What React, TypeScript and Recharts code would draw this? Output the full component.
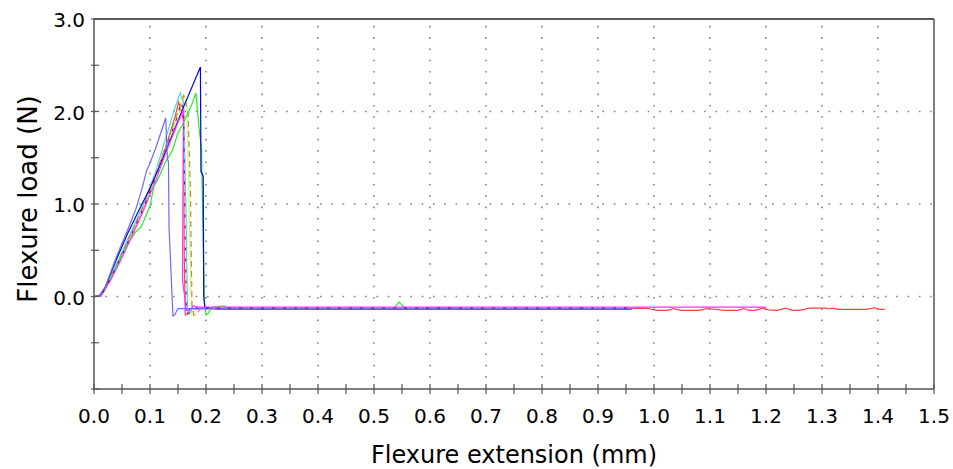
import React from 'react';
import { LineChart, Line, XAxis, YAxis, ReferenceLine, Label } from 'recharts';

// Flexure test curves: [extension (mm), load (N)]
const blueRun: [number, number][] = [
  [0, 0], [0.01, 0.01], [0.02, 0.1], [0.04, 0.4], [0.06, 0.68], [0.08, 0.93], [0.1, 1.17],
  [0.12, 1.45], [0.14, 1.75], [0.16, 2.05], [0.19, 2.48], [0.191, 1.35], [0.195, 1.3],
  [0.196, 0.0], [0.198, -0.12], [0.22, -0.135], [0.96, -0.135],
];
const violetRun: [number, number][] = [
  [0, 0], [0.01, 0.01], [0.02, 0.1], [0.04, 0.43], [0.06, 0.72], [0.075, 0.95], [0.085, 1.15],
  [0.094, 1.36], [0.1, 1.44], [0.11, 1.6], [0.128, 1.93], [0.131, 1.5], [0.133, 1.45],
  [0.134, 0.75], [0.138, 0.2], [0.141, -0.21], [0.144, -0.2], [0.15, -0.13], [0.96, -0.13],
];
const greenRun: [number, number][] = [
  [0, 0], [0.01, 0.01], [0.02, 0.08], [0.04, 0.33], [0.06, 0.57], [0.075, 0.7], [0.085, 0.76],
  [0.1, 0.98], [0.107, 1.19], [0.115, 1.28], [0.13, 1.48], [0.14, 1.58], [0.15, 1.77],
  [0.158, 1.86], [0.166, 1.96], [0.175, 2.08], [0.182, 2.2], [0.188, 1.8], [0.192, 1.6],
  [0.194, 0.9], [0.197, -0.05], [0.2, -0.2], [0.204, -0.18], [0.21, -0.12], [0.22, -0.11],
  [0.232, -0.1], [0.24, -0.12], [0.3, -0.13], [0.535, -0.13], [0.545, -0.06], [0.556, -0.13],
  [0.645, -0.12], [0.66, -0.13], [0.86, -0.13], [0.87, -0.12], [0.88, -0.13], [0.96, -0.13],
];
const redRun: [number, number][] = [
  [0, 0], [0.012, 0.0], [0.03, 0.2], [0.05, 0.45], [0.07, 0.72], [0.09, 0.98], [0.11, 1.3],
  [0.13, 1.65], [0.145, 1.95], [0.151, 2.1], [0.156, 2.0], [0.16, 1.9], [0.161, 0.5],
  [0.163, -0.2], [0.166, -0.2], [0.172, -0.13], [0.96, -0.13], [0.975, -0.125],
  [0.99, -0.13], [1.005, -0.15], [1.023, -0.15], [1.035, -0.13], [1.047, -0.15],
  [1.08, -0.15], [1.095, -0.13], [1.127, -0.15], [1.15, -0.15], [1.16, -0.13],
  [1.17, -0.15], [1.18, -0.15], [1.195, -0.125], [1.204, -0.145], [1.22, -0.15],
  [1.235, -0.125], [1.247, -0.15], [1.26, -0.15], [1.278, -0.125], [1.307, -0.125],
  [1.313, -0.135], [1.318, -0.125], [1.33, -0.14], [1.38, -0.14], [1.394, -0.12],
  [1.404, -0.14], [1.412, -0.14],
];
const magentaRun: [number, number][] = [
  [0, 0], [0.012, 0.0], [0.03, 0.18], [0.05, 0.42], [0.07, 0.68], [0.09, 0.95], [0.11, 1.25],
  [0.13, 1.58], [0.15, 1.88], [0.16, 2.02], [0.159, 1.4], [0.158, 0.18], [0.165, -0.15],
  [0.171, -0.15], [0.178, -0.1], [0.185, -0.115], [0.96, -0.115], [1.2, -0.115],
];
const cyanRun: [number, number][] = [
  [0, 0], [0.012, 0.0], [0.03, 0.22], [0.05, 0.48], [0.07, 0.75], [0.09, 1.02], [0.11, 1.35],
  [0.13, 1.75], [0.145, 2.05], [0.154, 2.2], [0.16, 2.1], [0.164, 1.0], [0.167, -0.15],
  [0.17, -0.19], [0.176, -0.13], [0.96, -0.13],
];
const limeRun: [number, number][] = [
  [0, 0], [0.012, 0.0], [0.03, 0.2], [0.05, 0.46], [0.07, 0.72], [0.09, 1.0], [0.11, 1.3],
  [0.13, 1.62], [0.15, 1.95], [0.162, 2.18], [0.166, 2.05], [0.17, 0.9], [0.174, -0.2],
  [0.178, -0.2], [0.184, -0.12], [0.96, -0.13],
];
const brownRun: [number, number][] = [
  [0, 0], [0.012, 0.0], [0.03, 0.21], [0.05, 0.47], [0.07, 0.73], [0.09, 1.0], [0.11, 1.32],
  [0.13, 1.66], [0.15, 2.0], [0.16, 2.17], [0.168, 2.0], [0.172, 1.2], [0.175, -0.1],
  [0.178, -0.2], [0.182, -0.2], [0.19, -0.13], [0.96, -0.13],
];
const plumRun: [number, number][] = [
  [0, 0], [0.012, 0.0], [0.03, 0.2], [0.05, 0.45], [0.07, 0.71], [0.09, 0.98], [0.11, 1.29],
  [0.13, 1.62], [0.15, 1.97], [0.156, 2.1], [0.16, 2.0], [0.163, 0.6], [0.165, -0.18],
  [0.17, -0.18], [0.176, -0.125], [0.96, -0.125],
];

const xTicks = [
  0, 0.05, 0.1, 0.15, 0.2, 0.25, 0.3, 0.35, 0.4, 0.45, 0.5, 0.55, 0.6, 0.65, 0.7, 0.75,
  0.8, 0.85, 0.9, 0.95, 1.0, 1.05, 1.1, 1.15, 1.2, 1.25, 1.3, 1.35, 1.4, 1.45, 1.5,
];
const yTicks = [-1, -0.5, 0, 0.5, 1, 1.5, 2, 2.5, 3];
const xGrid = [0.1, 0.2, 0.3, 0.4, 0.5, 0.6, 0.7, 0.8, 0.9, 1.0, 1.1, 1.2, 1.3, 1.4];
const yGrid = [0, 1, 2];

const toPoints = (run: [number, number][]) => run.map(([x, y]) => ({ x, y }));

// drawn bottom to top
const series = [
  { name: 'run 10', run: redRun, color: '#ff4040', dash: undefined },
  { name: 'run 8', run: limeRun, color: '#ccff66', dash: undefined },
  { name: 'run 7', run: cyanRun, color: '#44dddd', dash: undefined },
  { name: 'run 6', run: brownRun, color: '#c08a50', dash: '6 4' },
  { name: 'run 5', run: greenRun, color: '#22ee22', dash: undefined },
  { name: 'run 2', run: blueRun, color: '#0000ee', dash: undefined },
  { name: 'run 9', run: magentaRun, color: '#ff33ff', dash: undefined },
  { name: 'run 4', run: violetRun, color: '#6a6aff', dash: undefined },
  { name: 'run 3', run: plumRun, color: '#9a1070', dash: '3 8' },
];

const FONT = '"DejaVu Sans", Verdana, sans-serif';
const AXIS = '#555555';

const XTick = (props: any) => {
  const { x, y, payload } = props;
  const v = payload.value as number;
  const major = Math.abs(Math.round(v * 10) - v * 10) < 1e-6;
  return (
    <g>
      <line x1={x} x2={x} y1={y - 5} y2={y + 5} stroke={AXIS} strokeWidth={1.2} />
      {major && (
        <text x={x} y={y + 34} textAnchor="middle" fontFamily={FONT} fontSize={20} fill="#000">
          {v.toFixed(1)}
        </text>
      )}
    </g>
  );
};

const YTick = (props: any) => {
  const { x, y, payload } = props;
  const v = payload.value as number;
  const labelled = Number.isInteger(v) && v >= 0;
  return (
    <g>
      <line x1={x - 3} x2={x + 5} y1={y} y2={y} stroke={AXIS} strokeWidth={1.2} />
      {labelled && (
        <text x={x - 9} y={y + 8} textAnchor="end" fontFamily={FONT} fontSize={20} fill="#000">
          {v.toFixed(1)}
        </text>
      )}
    </g>
  );
};

export default function App() {
  return (
    <div style={{ position: 'absolute', left: 0, top: 0, background: '#fff' }}>
      <LineChart width={953} height={469} margin={{ top: 19, right: 19, bottom: 0, left: 0 }}>
        <XAxis
          type="number"
          dataKey="x"
          domain={[0, 1.5]}
          ticks={xTicks}
          interval={0}
          height={80}
          tickSize={0}
          tickMargin={0}
          tickLine={false}
          tick={<XTick />}
          axisLine={{ stroke: AXIS, strokeWidth: 1.5 }}
          allowDuplicatedCategory={false}
        >
          <Label
            value="Flexure extension (mm)"
            position="insideBottom"
            offset={6}
            style={{ fontFamily: FONT, fontSize: 24, fill: '#000' }}
          />
        </XAxis>
        <YAxis
          type="number"
          dataKey="y"
          domain={[-1, 3]}
          ticks={yTicks}
          interval={0}
          width={94}
          tickSize={0}
          tickMargin={0}
          tickLine={false}
          tick={<YTick />}
          axisLine={{ stroke: AXIS, strokeWidth: 1.5 }}
        >
          <Label
            content={(p: any) => {
              const vb = p.viewBox;
              const cx = 37;
              const cy = vb.y + vb.height / 2 - 5;
              return (
                <text
                  x={cx}
                  y={cy}
                  transform={`rotate(-90 ${cx} ${cy})`}
                  textAnchor="middle"
                  fontFamily={FONT}
                  fontSize={26}
                  fill="#000"
                >
                  Flexure load (N)
                </text>
              );
            }}
          />
        </YAxis>
        {xGrid.map((v) => (
          <ReferenceLine key={`gx${v}`} x={v} stroke="#808080" strokeWidth={1.6} strokeDasharray="1.6 9.7" />
        ))}
        {yGrid.map((v) => (
          <ReferenceLine key={`gy${v}`} y={v} stroke="#808080" strokeWidth={1.6} strokeDasharray="1.6 9.7" />
        ))}
        <ReferenceLine y={3} stroke="#222" strokeWidth={1.5} />
        <ReferenceLine x={1.5} stroke={AXIS} strokeWidth={1.5} />
        {series.map((s) => (
          <Line
            key={s.name}
            name={s.name}
            data={toPoints(s.run)}
            dataKey="y"
            type="linear"
            stroke={s.color}
            strokeWidth={1.2}
            strokeDasharray={s.dash}
            dot={false}
            activeDot={false}
            isAnimationActive={false}
          />
        ))}
      </LineChart>
    </div>
  );
}
